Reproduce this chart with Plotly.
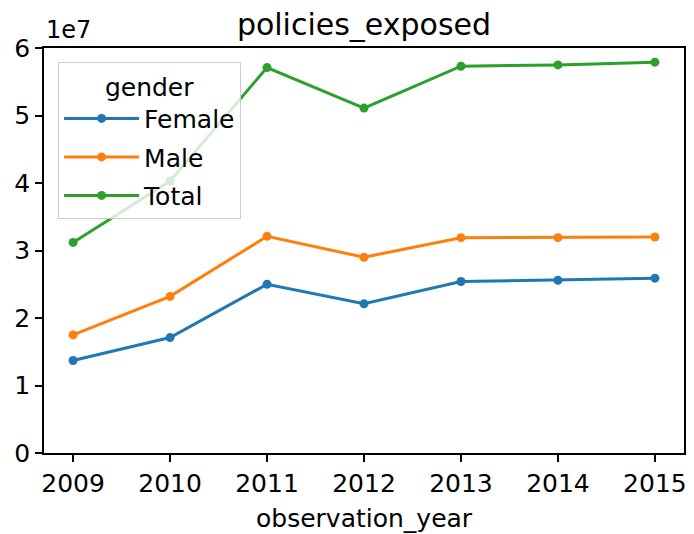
import plotly.graph_objects as go

years = [2009, 2010, 2011, 2012, 2013, 2014, 2015]
female = [1.37e7, 1.71e7, 2.50e7, 2.21e7, 2.54e7, 2.56e7, 2.59e7]
male = [1.75e7, 2.32e7, 3.21e7, 2.90e7, 3.19e7, 3.19e7, 3.20e7]
total = [3.12e7, 4.03e7, 5.71e7, 5.11e7, 5.73e7, 5.75e7, 5.79e7]

series = [("Female", female, "#1f77b4"), ("Male", male, "#ff7f0e"), ("Total", total, "#2ca02c")]
y_ticks = [0, 1e7, 2e7, 3e7, 4e7, 5e7, 6e7]
y_labels = ["0", "1", "2", "3", "4", "5", "6"]

FONT = "DejaVu Sans"

fig = go.Figure()
for name, vals, color in series:
    fig.add_trace(go.Scatter(
        x=years, y=vals, mode="lines+markers", name=name, legendgroup=name,
        line=dict(color=color, width=3),
        marker=dict(color=color, size=9),
    ))

axis_common = dict(
    showline=True, linecolor="black", linewidth=1.5, mirror=True,
    ticks="outside", ticklen=7, tickwidth=1.5, tickcolor="black",
    showgrid=False, zeroline=False, automargin=False,
    tickfont=dict(family=FONT, size=25, color="black"),
)

fig.update_xaxes(range=[2008.7, 2015.3], tickvals=years, **axis_common)
fig.update_yaxes(range=[0, 6e7], tickvals=y_ticks, ticktext=y_labels, **axis_common)

# scale multiplier, matplotlib style
fig.add_annotation(
    text="1e7", xref="paper", yref="paper", x=0, y=1, xanchor="left", yanchor="bottom",
    showarrow=False, font=dict(family=FONT, size=24, color="black"), yshift=2,
)
# x axis title
fig.add_annotation(
    text="observation_year", xref="paper", yref="paper", x=0.5, y=0,
    xanchor="center", yanchor="middle", yshift=-65,
    showarrow=False, font=dict(family=FONT, size=25, color="black"),
)

# page body has an 8px margin, so the figure is shrunk by that much
fig.update_layout(
    width=686, height=526,
    margin=dict(l=36, r=10, t=40, b=81),
    paper_bgcolor="white", plot_bgcolor="white",
    font=dict(family=FONT, color="black"),
    title=dict(text="policies_exposed", x=0.5, xref="paper", xanchor="center",
               y=1 - 16 / 526, yanchor="middle",
               font=dict(family=FONT, size=30, color="black")),
    legend=dict(
        x=0.022, y=0.965, xanchor="left", yanchor="top",
        bgcolor="rgba(255,255,255,0.8)", bordercolor="#cccccc", borderwidth=1,
        itemwidth=75, tracegroupgap=3,
        font=dict(family=FONT, size=25, color="black"),
        title=dict(text="gender", side="top center", font=dict(family=FONT, size=25, color="black")),
    ),
)

fig.write_html("out.html")
